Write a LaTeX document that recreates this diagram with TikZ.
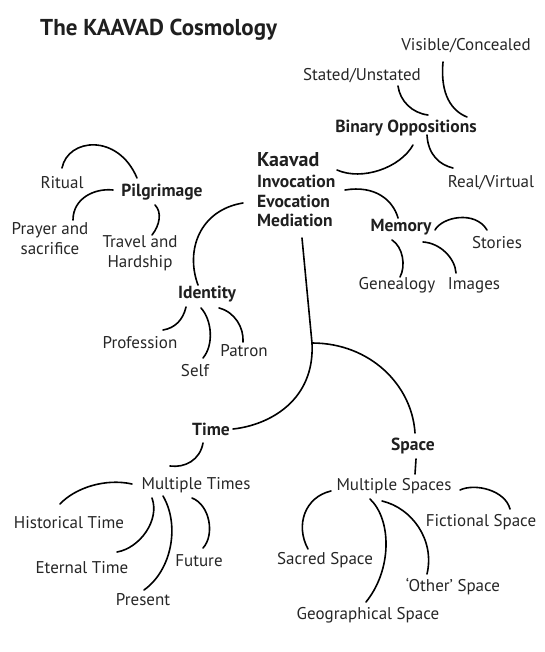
\documentclass[tikz,border=0pt]{standalone}
\usepackage{fontspec}
\setmainfont{PT Sans}
\begin{document}
\begin{tikzpicture}[x=1pt,y=-1pt,
  lbl/.style={inner sep=0pt, text=black!85, font=\fontsize{17}{20}\selectfont},
  blbl/.style={inner sep=0pt, text=black!88, font=\fontsize{17.5}{20}\selectfont\bfseries},
  con/.style={line width=1.6pt, line cap=round}]
\useasboundingbox (0,0) rectangle (544,652);
% title
\node[inner sep=0pt, anchor=west, text=black!88, font=\fontsize{23}{25}\selectfont\bfseries] (title) at (40,30) {The KAAVAD Cosmology};
% central block
\node[inner sep=0pt, anchor=west, text=black!88, font=\fontsize{20}{22}\selectfont\bfseries] (kaavad) at (257,160) {Kaavad};
\node[blbl, anchor=west] (invoc) at (257,181) {Invocation};
\node[blbl, anchor=west] (evoc) at (257,201) {Evocation};
\node[blbl, anchor=west] (medi) at (257,220) {Mediation};
% binary oppositions
\node[lbl] (vc) at (466,46) {Visible/Concealed};
\node[lbl] (su) at (362,76) {Stated/Unstated};
\node[blbl] (bo) at (406,128) {Binary Oppositions};
\node[lbl] (rv) at (491,183) {Real/Virtual};
% memory
\node[blbl] (mem) at (401,227) {Memory};
\node[lbl] (sto) at (497,243) {Stories};
\node[lbl] (gen) at (397,285) {Genealogy};
\node[lbl] (img) at (474,285) {Images};
% pilgrimage
\node[blbl] (pil) at (162,192) {Pilgrimage};
\node[lbl] (rit) at (62,183) {Ritual};
\node[lbl, align=center] (pray) at (50,239) {Prayer and\\sacrifice};
\node[lbl, align=center] (trav) at (140,253) {Travel and\\Hardship};
% identity
\node[blbl] (ide) at (207,294) {Identity};
\node[lbl] (prof) at (140,343) {Profession};
\node[lbl] (self) at (195,371) {Self};
\node[lbl] (pat) at (244,351) {Patron};
% time
\node[blbl] (time) at (211,429) {Time};
\node[lbl] (mt) at (196,485) {Multiple Times};
\node[lbl] (hist) at (69,523) {Historical Time};
\node[lbl] (eter) at (82,568) {Eternal Time};
\node[lbl] (fut) at (199,561) {Future};
\node[lbl] (pres) at (143,600) {Present};
% space
\node[blbl] (spa) at (413,446) {Space};
\node[lbl] (ms) at (394,486) {Multiple Spaces};
\node[lbl] (fic) at (481,522) {Fictional Space};
\node[lbl] (sac) at (325,560) {Sacred Space};
\node[lbl] (oth) at (453,587) {`Other' Space};
\node[lbl] (geo) at (368,615) {Geographical Space};
% connector end points
\coordinate (vcA) at (443,62);   \coordinate (vcB) at (467,117);
\coordinate (suA) at (398,86);   \coordinate (suB) at (428,115);
\coordinate (boK) at (413,145);  \coordinate (kB) at (337,170);
\coordinate (boR) at (427,135);  \coordinate (rvT) at (453,168);
\coordinate (kM) at (345,190);   \coordinate (memT) at (398,218);
\coordinate (memS) at (435,230); \coordinate (stoT) at (487,230);
\coordinate (memG) at (392,240); \coordinate (genT) at (400,277);
\coordinate (memI) at (423,242); \coordinate (imgT) at (456,273);
\coordinate (medB) at (302,238); \coordinate (junc) at (312,343);
\coordinate (spaT) at (415,433); \coordinate (timeR) at (233,429);
\coordinate (timeB) at (203,443); \coordinate (mtT) at (170,466);
\coordinate (mtL) at (132,484);  \coordinate (histT) at (60,504);
\coordinate (mtE) at (152,498);  \coordinate (eterT) at (117,552);
\coordinate (mtP) at (163,496);  \coordinate (presT) at (144,590);
\coordinate (mtF) at (192,498);  \coordinate (futT) at (203,548);
\coordinate (spaB) at (416,459); \coordinate (msT) at (415,474);
\coordinate (msR) at (460,490);  \coordinate (ficT) at (510,509);
\coordinate (msL) at (331,491);  \coordinate (sacT) at (308,549);
\coordinate (msG) at (370,499);  \coordinate (geoT) at (366,602);
\coordinate (msO) at (382,501);  \coordinate (othT) at (427,574);
\coordinate (ritT) at (62,168);  \coordinate (pilT) at (137,178);
\coordinate (pilL) at (113,190); \coordinate (prayT) at (73,220);
\coordinate (pilB) at (155,205); \coordinate (travT) at (152,235);
\coordinate (evL) at (243,203);  \coordinate (ideT) at (198,285);
\coordinate (ideP) at (186,307); \coordinate (profT) at (163,330);
\coordinate (ideS) at (201,308); \coordinate (selfT) at (203,358);
\coordinate (ideR) at (219,308); \coordinate (patT) at (243,342);
% connectors
\draw[con] (vcA) .. controls (440,95) and (452,111) .. (vcB);
\draw[con] (suA) .. controls (400,101) and (412,113) .. (suB);
\draw[con] (boK) .. controls (400,168) and (362,181) .. (kB);
\draw[con] (boR) .. controls (428,155) and (440,165) .. (rvT);
\draw[con] (kM) .. controls (375,185) and (393,200) .. (memT);
\draw[con] (memS) .. controls (442,217) and (475,210) .. (stoT);
\draw[con] (memG) .. controls (403,247) and (406,266) .. (genT);
\draw[con] (memI) .. controls (440,243) and (455,258) .. (imgT);
\draw[con] (medB) -- (junc);
\draw[con] (junc) .. controls (370,343) and (412,385) .. (spaT);
\draw[con] (junc) .. controls (315,400) and (270,425) .. (timeR);
\draw[con] (timeB) .. controls (200,460) and (185,468) .. (mtT);
\draw[con] (mtL) .. controls (105,478) and (75,488) .. (histT);
\draw[con] (mtE) .. controls (160,520) and (140,548) .. (eterT);
\draw[con] (mtP) .. controls (180,525) and (172,570) .. (presT);
\draw[con] (mtF) .. controls (210,505) and (215,535) .. (futT);
\draw[con] (spaB) -- (msT);
\draw[con] (msR) .. controls (475,483) and (505,490) .. (ficT);
\draw[con] (msL) .. controls (305,497) and (295,525) .. (sacT);
\draw[con] (msG) .. controls (392,520) and (392,570) .. (geoT);
\draw[con] (msO) .. controls (412,508) and (435,540) .. (othT);
\draw[con] (ritT) .. controls (68,138) and (118,133) .. (pilT);
\draw[con] (pilL) .. controls (95,188) and (73,198) .. (prayT);
\draw[con] (pilB) .. controls (162,212) and (160,225) .. (travT);
\draw[con] (evL) .. controls (200,210) and (185,250) .. (ideT);
\draw[con] (ideP) .. controls (183,320) and (175,328) .. (profT);
\draw[con] (ideS) .. controls (212,320) and (214,345) .. (selfT);
\draw[con] (ideR) .. controls (235,312) and (244,328) .. (patT);
\end{tikzpicture}
\end{document}
